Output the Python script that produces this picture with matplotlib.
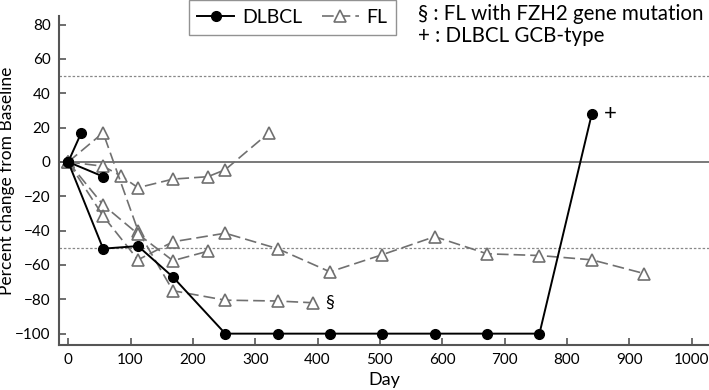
import matplotlib
matplotlib.use('Agg')
from matplotlib import pyplot as plt
from matplotlib.lines import Line2D

plt.rcParams['font.family'] = ['Lato', 'DejaVu Sans']

# DLBCL patients
dlbcl_a_day = [0, 21]
dlbcl_a_pct = [0, 17]
dlbcl_b_day = [0, 56]
dlbcl_b_pct = [0, -8.5]
dlbcl_c_day = [0, 56, 112, 168, 252, 336, 420, 504, 588, 672, 756, 840]
dlbcl_c_pct = [0, -50.5, -49, -67, -100, -100, -100, -100, -100, -100, -100, 28]

# FL patients
fl_a_day = [0, 56, 84, 112, 168, 224, 252, 322]
fl_a_pct = [0, -2.5, -8, -15, -10, -8.6, -4.5, 17]
fl_b_day = [0, 56, 112, 168, 252, 336, 392]
fl_b_pct = [0, 17, -40, -75, -80.5, -81, -82]
fl_c_day = [0, 56, 112, 168, 224]
fl_c_pct = [0, -25, -42, -57.5, -52]
fl_d_day = [0, 56, 112, 168, 252, 336, 420, 504, 588, 672, 756, 840, 924]
fl_d_pct = [0, -31.5, -57, -46.5, -41.5, -50.5, -64, -54, -43.5, -53.5, -54.5, -57, -65]

x_ticks = [0, 100, 200, 300, 400, 500, 600, 700, 800, 900, 1000]
y_ticks = [-100, -80, -60, -40, -20, 0, 20, 40, 60, 80]

fl_color = '#707070'
spine_color = '#555555'

fig = plt.figure(figsize=(7.09, 3.9), dpi=100)
ax = fig.add_axes([0.083, 0.115, 0.917, 0.844])

# reference lines
ax.axhline(0, color='#555555', linewidth=1.1, zorder=1)
ax.axhline(50, color='#888888', linewidth=0.9, linestyle=(0, (2, 1.5)), zorder=1)
ax.axhline(-50, color='#888888', linewidth=0.9, linestyle=(0, (2, 1.5)), zorder=1)

fl_style = dict(color=fl_color, linewidth=1.2, dashes=(7, 3), marker='^', markersize=9,
                markerfacecolor='white', markeredgecolor=fl_color, markeredgewidth=1.2, zorder=2)
for days, pct in [(fl_a_day, fl_a_pct), (fl_b_day, fl_b_pct), (fl_c_day, fl_c_pct), (fl_d_day, fl_d_pct)]:
    ax.plot(days, pct, **fl_style)

dlbcl_style = dict(color='black', linewidth=1.4, marker='o', markersize=7, zorder=3)
for days, pct in [(dlbcl_a_day, dlbcl_a_pct), (dlbcl_b_day, dlbcl_b_pct), (dlbcl_c_day, dlbcl_c_pct)]:
    ax.plot(days, pct, **dlbcl_style)

# annotations near points
ax.text(fl_b_day[-1] + 20, fl_b_pct[-1], '§', fontsize=13, va='center', ha='left')
ax.text(dlbcl_c_day[-1] + 20, dlbcl_c_pct[-1], '+', fontsize=16, va='center', ha='left')

ax.set_xlim(-15, 1028)
ax.set_ylim(-106.7, 85)
ax.set_xticks(x_ticks)
ax.set_yticks(y_ticks)
ax.tick_params(direction='in', length=5, width=1.2, color=spine_color, labelsize=11, pad=6)

for side in ['top', 'right']:
    ax.spines[side].set_visible(False)
for side in ['left', 'bottom']:
    ax.spines[side].set_color(spine_color)
    ax.spines[side].set_linewidth(1.5)

ax.set_xlabel('Day', fontsize=13)
ax.set_ylabel('Percent change from Baseline', fontsize=12.5)
ax.xaxis.set_label_coords(0.5, -0.083)
ax.yaxis.set_label_coords(-0.067, 0.5)

handles = [Line2D([], [], **dlbcl_style), Line2D([], [], **fl_style)]
fig.legend(handles, ['DLBCL', 'FL'], loc='upper left', bbox_to_anchor=(0.266, 1.0),
           ncol=2, fontsize=14, frameon=True, fancybox=False, edgecolor='#777777',
           handlelength=1.9, handletextpad=0.4, columnspacing=1.0, borderpad=0.45,
           borderaxespad=0)

fig.text(0.59, 0.965, '§ : FL with FZH2 gene mutation', fontsize=14.8, va='center', ha='left')
fig.text(0.59, 0.907, '+ : DLBCL GCB-type', fontsize=14.8, va='center', ha='left')

plt.savefig('out.png', dpi=100)
plt.close()
